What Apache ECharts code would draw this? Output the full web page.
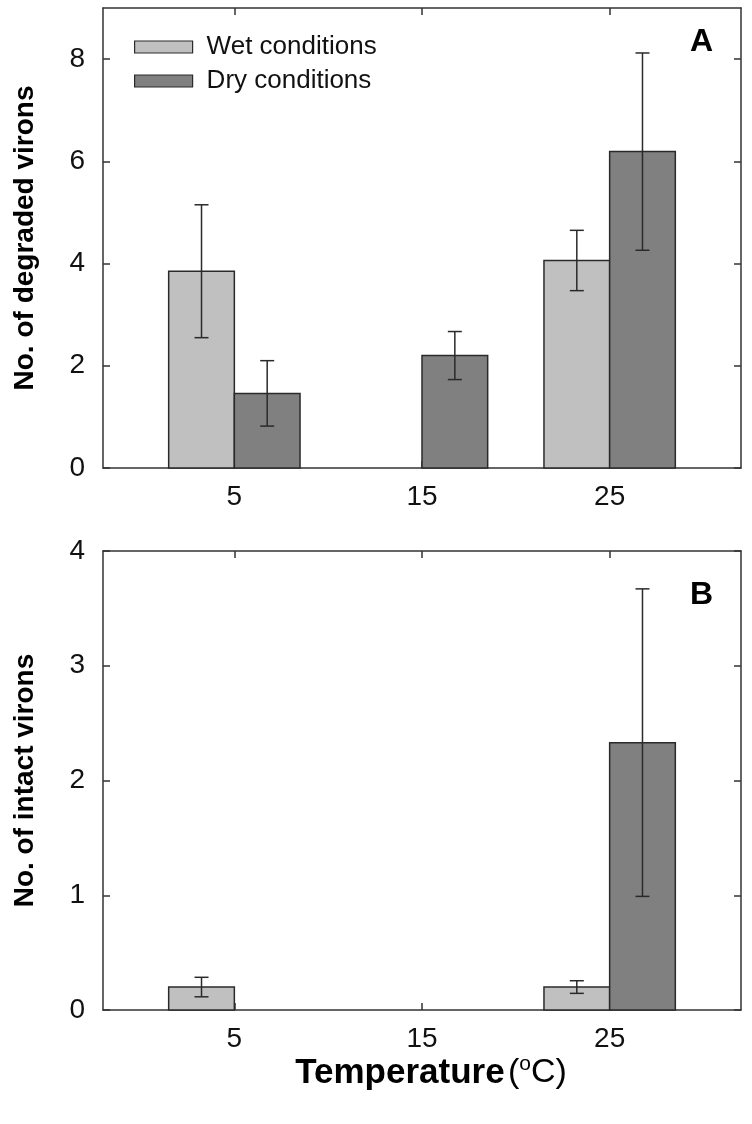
<!DOCTYPE html>
<html>
<head>
<meta charset="utf-8">
<script src="https://cdn.jsdelivr.net/npm/echarts@6/dist/echarts.min.js"></script>
<style>
  html, body { margin: 0; padding: 0; background: #ffffff; }
  #chart { width: 752px; height: 1124px; }
</style>
</head>
<body>
<div id="chart"></div>
<script>
// ---- Data ----
const temperatures = [5, 15, 25];
const seriesNames = ['Wet conditions', 'Dry conditions'];

// Panel A: No. of degraded virons (mean, error)
const wetDegraded    = [3.85, 0, 4.06];
const wetDegradedErr = [1.30, 0, 0.59];
const dryDegraded    = [1.46, 2.20, 6.19];
const dryDegradedErr = [0.64, 0.47, 1.93];

// Panel B: No. of intact virons (mean, error)
const wetIntact    = [0.20, 0, 0.20];
const wetIntactErr = [0.085, 0, 0.055];
const dryIntact    = [0, 0, 2.33];
const dryIntactErr = [0, 0, 1.34];

// Tick labels
const xTickValues = [5, 15, 25];
const yTicksA = [0, 2, 4, 6, 8];
const yTicksB = [0, 1, 2, 3, 4];

// ---- Styling ----
const FONT = "'Liberation Sans', Arial, sans-serif";
const WET_COLOR = '#c0c0c0';
const DRY_COLOR = '#808080';
const EDGE = '#2a2a2a';
const AXIS_COLOR = '#333333';
const BAR_HALF = 1.75;   // half bar width in axis units
const CAP_HALF = 7;      // error cap half width in px

function toData(means, errs) {
  return temperatures.map((t, i) => [t, means[i], errs[i]]);
}

function makeRender(offset) {
  return function (params, api) {
    const x = api.value(0), v = api.value(1), e = api.value(2);
    if (v === 0 && e === 0) return null;
    const tl = api.coord([x + offset - BAR_HALF, v]);
    const br = api.coord([x + offset + BAR_HALF, 0]);
    const children = [{
      type: 'rect',
      shape: { x: tl[0], y: tl[1], width: br[0] - tl[0], height: br[1] - tl[1] },
      style: { fill: api.visual('color'), stroke: EDGE, lineWidth: 1.5 }
    }];
    if (e > 0) {
      const cx = api.coord([x + offset, 0])[0];
      const yt = api.coord([x + offset, v + e])[1];
      const yb = api.coord([x + offset, v - e])[1];
      const ls = { stroke: EDGE, lineWidth: 1.5 };
      children.push(
        { type: 'line', shape: { x1: cx, y1: yt, x2: cx, y2: yb }, style: ls },
        { type: 'line', shape: { x1: cx - CAP_HALF, y1: yt, x2: cx + CAP_HALF, y2: yt }, style: ls },
        { type: 'line', shape: { x1: cx - CAP_HALF, y1: yb, x2: cx + CAP_HALF, y2: yb }, style: ls }
      );
    }
    return { type: 'group', children: children };
  };
}

const axisLineStyle = { show: true, onZero: false, lineStyle: { color: AXIS_COLOR, width: 1.5 } };
const tickStyle = { show: true, inside: true, length: 7, lineStyle: { color: AXIS_COLOR, width: 1.5 } };
const labelStyle = { fontFamily: FONT, fontSize: 28, color: '#111' };

function xAxes(gridIndex, withName) {
  const bottom = {
    type: 'value', gridIndex: gridIndex, position: 'bottom', min: -2, max: 32,
    axisLine: axisLineStyle,
    axisTick: Object.assign({}, tickStyle, { customValues: xTickValues }),
    axisLabel: Object.assign({}, labelStyle, { customValues: xTickValues, margin: 15 }),
    splitLine: { show: false }
  };
  if (withName) {
    bottom.name = '{b|Temperature} {n|(}{s|o}{n|C)}';
    bottom.nameLocation = 'middle';
    bottom.nameGap = 43;
    bottom.nameTextStyle = {
      fontFamily: FONT,
      padding: [0, 0, 0, 18],
      rich: {
        b: { fontFamily: FONT, fontSize: 35, fontWeight: 'bold', color: '#000', lineHeight: 38 },
        n: { fontFamily: FONT, fontSize: 34, color: '#000', lineHeight: 38 },
        s: { fontFamily: FONT, fontSize: 21, color: '#000', lineHeight: 21, verticalAlign: 'top' }
      }
    };
  }
  const top = {
    type: 'value', gridIndex: gridIndex, position: 'top', min: -2, max: 32,
    axisLine: axisLineStyle,
    axisTick: Object.assign({}, tickStyle, { customValues: xTickValues }),
    axisLabel: { show: false },
    splitLine: { show: false }
  };
  return [bottom, top];
}

function yAxes(gridIndex, max, ticks, name) {
  const left = {
    type: 'value', gridIndex: gridIndex, position: 'left', min: 0, max: max,
    name: name, nameLocation: 'middle', nameGap: 64,
    nameTextStyle: { fontFamily: FONT, fontSize: 28, fontWeight: 'bold', color: '#000' },
    axisLine: axisLineStyle,
    axisTick: Object.assign({}, tickStyle, { customValues: ticks }),
    axisLabel: Object.assign({}, labelStyle, { customValues: ticks, margin: 18 }),
    splitLine: { show: false }
  };
  const right = {
    type: 'value', gridIndex: gridIndex, position: 'right', min: 0, max: max,
    axisLine: axisLineStyle,
    axisTick: Object.assign({}, tickStyle, { customValues: ticks }),
    axisLabel: { show: false },
    splitLine: { show: false }
  };
  return [left, right];
}

function barSeries(name, color, offset, xIdx, yIdx, data) {
  return {
    type: 'custom', name: name,
    xAxisIndex: xIdx, yAxisIndex: yIdx,
    itemStyle: { color: color },
    encode: { x: 0, y: 1 },
    renderItem: makeRender(offset),
    data: data,
    z: 3
  };
}

const chart = echarts.init(document.getElementById('chart'), null, { renderer: 'canvas' });

const option = {
  backgroundColor: '#ffffff',
  animation: false,
  title: [
    { text: 'A', left: 690, top: 26, padding: 0,
      textStyle: { fontFamily: FONT, fontSize: 32, fontWeight: 'bold', color: '#000' } },
    { text: 'B', left: 690, top: 579, padding: 0,
      textStyle: { fontFamily: FONT, fontSize: 32, fontWeight: 'bold', color: '#000' } }
  ],
  legend: {
    orient: 'vertical', left: 134, top: 34, padding: 0,
    itemWidth: 58, itemHeight: 12, itemGap: 8,
    icon: 'rect',
    textStyle: { fontFamily: FONT, fontSize: 26, color: '#111', lineHeight: 26, padding: [0, 0, 0, 9] },
    data: [
      { name: seriesNames[0], itemStyle: { color: WET_COLOR, borderColor: EDGE, borderWidth: 1.2 } },
      { name: seriesNames[1], itemStyle: { color: DRY_COLOR, borderColor: EDGE, borderWidth: 1.2 } }
    ],
    selectedMode: false
  },
  grid: [
    { left: 103, right: 11, top: 8, height: 460 },
    { left: 103, right: 11, top: 551, height: 459 }
  ],
  xAxis: [].concat(xAxes(0, false), xAxes(1, true)),
  yAxis: [].concat(
    yAxes(0, 9, yTicksA, 'No. of degraded virons'),
    yAxes(1, 4, yTicksB, 'No. of intact virons')
  ),
  series: [
    barSeries(seriesNames[0], WET_COLOR, -BAR_HALF, 0, 0, toData(wetDegraded, wetDegradedErr)),
    barSeries(seriesNames[1], DRY_COLOR,  BAR_HALF, 0, 0, toData(dryDegraded, dryDegradedErr)),
    barSeries(seriesNames[0], WET_COLOR, -BAR_HALF, 2, 2, toData(wetIntact, wetIntactErr)),
    barSeries(seriesNames[1], DRY_COLOR,  BAR_HALF, 2, 2, toData(dryIntact, dryIntactErr))
  ]
};

chart.setOption(option);
</script>
</body>
</html>
